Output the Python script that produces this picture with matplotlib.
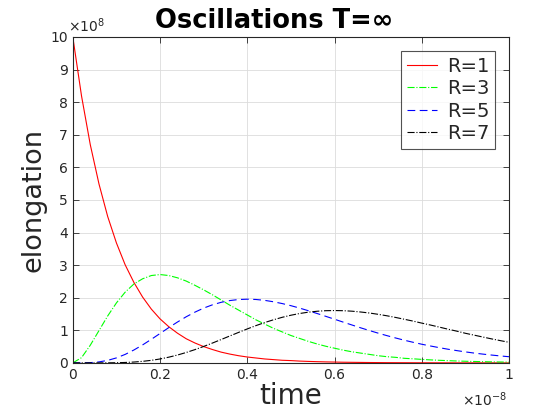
import matplotlib
matplotlib.use('Agg')
import matplotlib.pyplot as plt
import matplotlib.ticker as mtick

# time axis, units of 1e-8
time = [i * 0.02 for i in range(51)]

# elongation, units of 1e8
r1 = [10, 8.19, 6.70, 5.49, 4.49, 3.68, 3.01, 2.47, 2.02, 1.65, 1.35, 1.11, 0.91, 0.74, 0.61,
      0.50, 0.41, 0.33, 0.27, 0.22, 0.18, 0.15, 0.12, 0.10, 0.08, 0.07, 0.055, 0.045, 0.037, 0.030,
      0.025, 0.020, 0.017, 0.014, 0.011, 0.009, 0.007, 0.006, 0.005, 0.004, 0.003, 0.003, 0.002,
      0.002, 0.001, 0.001, 0.001, 0.001, 0.001, 0.0, 0.0]
r3 = [0, 0.16, 0.54, 0.99, 1.44, 1.84, 2.17, 2.42, 2.58, 2.68, 2.71, 2.68, 2.61, 2.51, 2.38,
      2.24, 2.09, 1.93, 1.77, 1.62, 1.47, 1.32, 1.19, 1.06, 0.95, 0.84, 0.75, 0.66, 0.58, 0.51,
      0.45, 0.39, 0.34, 0.30, 0.26, 0.22, 0.19, 0.17, 0.14, 0.125, 0.107, 0.092, 0.079, 0.068,
      0.058, 0.050, 0.043, 0.037, 0.031, 0.027, 0.023]
r5 = [0, 0.0005, 0.007, 0.03, 0.077, 0.153, 0.26, 0.395, 0.551, 0.723, 0.902, 1.082, 1.254,
      1.415, 1.557, 1.681, 1.781, 1.858, 1.912, 1.944, 1.954, 1.945, 1.918, 1.875, 1.820, 1.755,
      1.681, 1.600, 1.515, 1.428, 1.339, 1.250, 1.162, 1.075, 0.992, 0.912, 0.836, 0.764, 0.695,
      0.632, 0.572, 0.518, 0.467, 0.419, 0.377, 0.337, 0.301, 0.269, 0.240, 0.213, 0.189]
r7 = [0, 0.0, 0.0, 0.0002, 0.0016, 0.0051, 0.0125, 0.0258, 0.0471, 0.0781, 0.120, 0.175, 0.241,
      0.319, 0.407, 0.504, 0.608, 0.716, 0.826, 0.935, 1.042, 1.144, 1.238, 1.322, 1.398, 1.462,
      1.515, 1.556, 1.584, 1.601, 1.606, 1.601, 1.586, 1.561, 1.530, 1.490, 1.445, 1.394, 1.338,
      1.282, 1.220, 1.161, 1.098, 1.034, 0.974, 0.908, 0.851, 0.793, 0.736, 0.683, 0.631]

labels = ['R=1', 'R=3', 'R=5', 'R=7']
grey = '#262626'

fig = plt.figure(figsize=(5.6, 4.2), dpi=100)
ax = fig.add_axes([0.130, 0.136, 0.779, 0.776])

ax.plot(time, r1, color='red', linestyle='-', linewidth=0.8, label=labels[0])
ax.plot(time, r3, color='#00ff00', linestyle='-.', linewidth=0.8, label=labels[1])
ax.plot(time, r5, color='blue', linestyle=(0, (7, 4)), linewidth=0.8, label=labels[2])
ax.plot(time, r7, color='black', linestyle='-.', linewidth=0.8, label=labels[3])

ax.set_xlim(0, 1)
ax.set_ylim(0, 10)
ax.set_xticks([0, 0.2, 0.4, 0.6, 0.8, 1])
ax.set_yticks(range(11))
ax.xaxis.set_major_formatter(mtick.FormatStrFormatter('%g'))
ax.tick_params(direction='in', top=True, right=True, labelsize=10, length=4, width=0.6,
               colors=grey, labelcolor=grey)
ax.grid(True, color='#dcdcdc', linewidth=0.6)
for s in ax.spines.values():
    s.set_linewidth(0.8)
    s.set_color(grey)

fig.text(274 / 560, 1 - 28 / 420, 'Oscillations T=∞', fontsize=18.5, fontweight='bold',
         ha='center', va='baseline')
ax.set_xlabel('time', fontsize=20, labelpad=0, color=grey)
ax.set_ylabel('elongation', fontsize=19.5, labelpad=3, color=grey)

# MATLAB-style exponent labels
ax.text(-0.012, 1.005, r'$\times10^{8}$', transform=ax.transAxes, fontsize=10,
        color=grey, ha='left', va='bottom')
ax.text(0.996, -0.085, r'$\times10^{-8}$', transform=ax.transAxes, fontsize=10,
        color=grey, ha='right', va='top')

leg = ax.legend(loc='upper right', fontsize=14, frameon=True, fancybox=False,
                handlelength=1.55, handletextpad=0.5, borderpad=0.3,
                borderaxespad=0.72, labelspacing=0.18)
leg.get_frame().set_edgecolor(grey)
leg.get_frame().set_linewidth(0.8)
for t in leg.get_texts():
    t.set_color(grey)

fig.savefig('out.png', dpi=100)
